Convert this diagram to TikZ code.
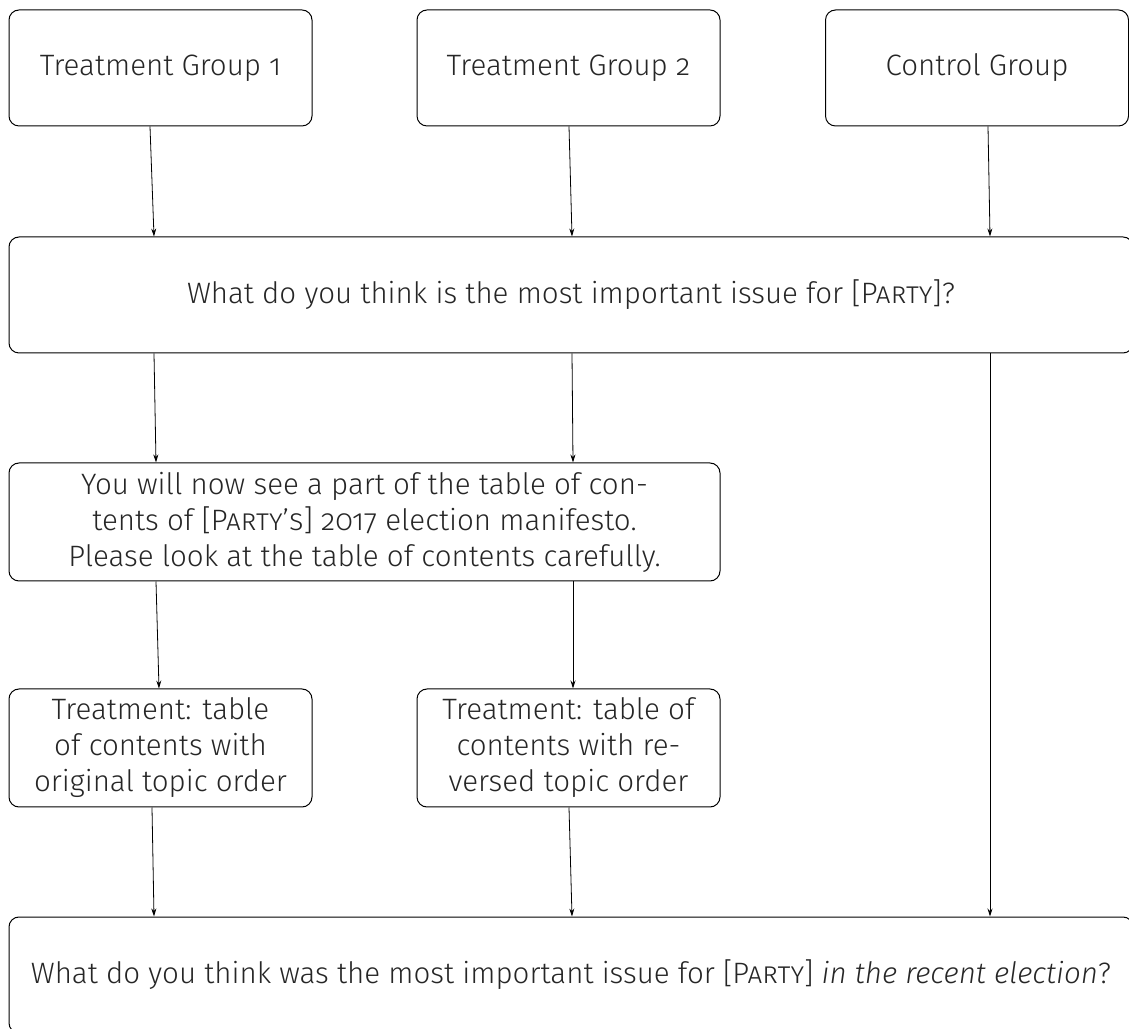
\documentclass[tikz,border=0pt]{standalone}
\usepackage{fontspec}
\setmainfont{Fira Sans Light}[ItalicFont={Fira Sans Light Italic},Numbers=OldStyle]
\usetikzlibrary{arrows.meta}
\begin{document}
\begin{tikzpicture}[x=1pt,y=1pt,
  box/.style={draw, line width=1pt, rounded corners=10pt, align=center,
    inner sep=0pt, text=black!85, font=\fontsize{29.5}{36}\selectfont},
  flow/.style={-{Stealth[length=8pt,width=5pt]}, line width=0.8pt}]
\useasboundingbox (0,0) rectangle (1129,1028);
% top row: the three groups
\node[box, minimum width=303, minimum height=116] (tg1) at (160.5,960) {Treatment Group 1};
\node[box, minimum width=303, minimum height=116] (tg2) at (568.5,960) {Treatment Group 2};
\node[box, minimum width=303, minimum height=116] (ctl) at (977,960) {Control Group};
% first question
\node[box, minimum width=1124, minimum height=116] (q1) at (571,733)
  {What do you think is the most important issue for [\textsc{Party}]?};
% manifesto prompt
\node[box, minimum width=711, minimum height=118] (man) at (364.5,506)
  {You will now see a part of the table of con-\\tents of [\textsc{Party's}] 2017 election manifesto.\\Please look at the table of contents carefully.};
% the two treatments
\node[box, minimum width=303, minimum height=118] (tr1) at (160.5,280)
  {Treatment: table\\of contents with\\original topic order};
\node[box, minimum width=303, minimum height=118] (tr2) at (568.5,280)
  {Treatment: table of\\contents with re-\\versed topic order};
% final question
\node[box, minimum width=1124, minimum height=116] (q2) at (571,53)
  {What do you think was the most important issue for [\textsc{Party}] \textit{in the recent election}?};
% connectors
\draw[flow] ([xshift=-10.5]tg1.south) -- ([xshift=-417]q1.north);
\draw[flow] ([xshift=0.5]tg2.south) -- ([xshift=1]q1.north);
\draw[flow] ([xshift=11]ctl.south) -- ([xshift=419]q1.north);
\draw[flow] ([xshift=-417]q1.south) -- ([xshift=-208.5]man.north);
\draw[flow] ([xshift=1]q1.south) -- ([xshift=208.5]man.north);
\draw[flow] ([xshift=419]q1.south) -- ([xshift=419]q2.north);
\draw[flow] ([xshift=-208.5]man.south) -- ([xshift=-1.5]tr1.north);
\draw[flow] ([xshift=208.5]man.south) -- ([xshift=4.5]tr2.north);
\draw[flow] ([xshift=-8.5]tr1.south) -- ([xshift=-417]q2.north);
\draw[flow] ([xshift=0.5]tr2.south) -- ([xshift=1]q2.north);
\end{tikzpicture}
\end{document}
